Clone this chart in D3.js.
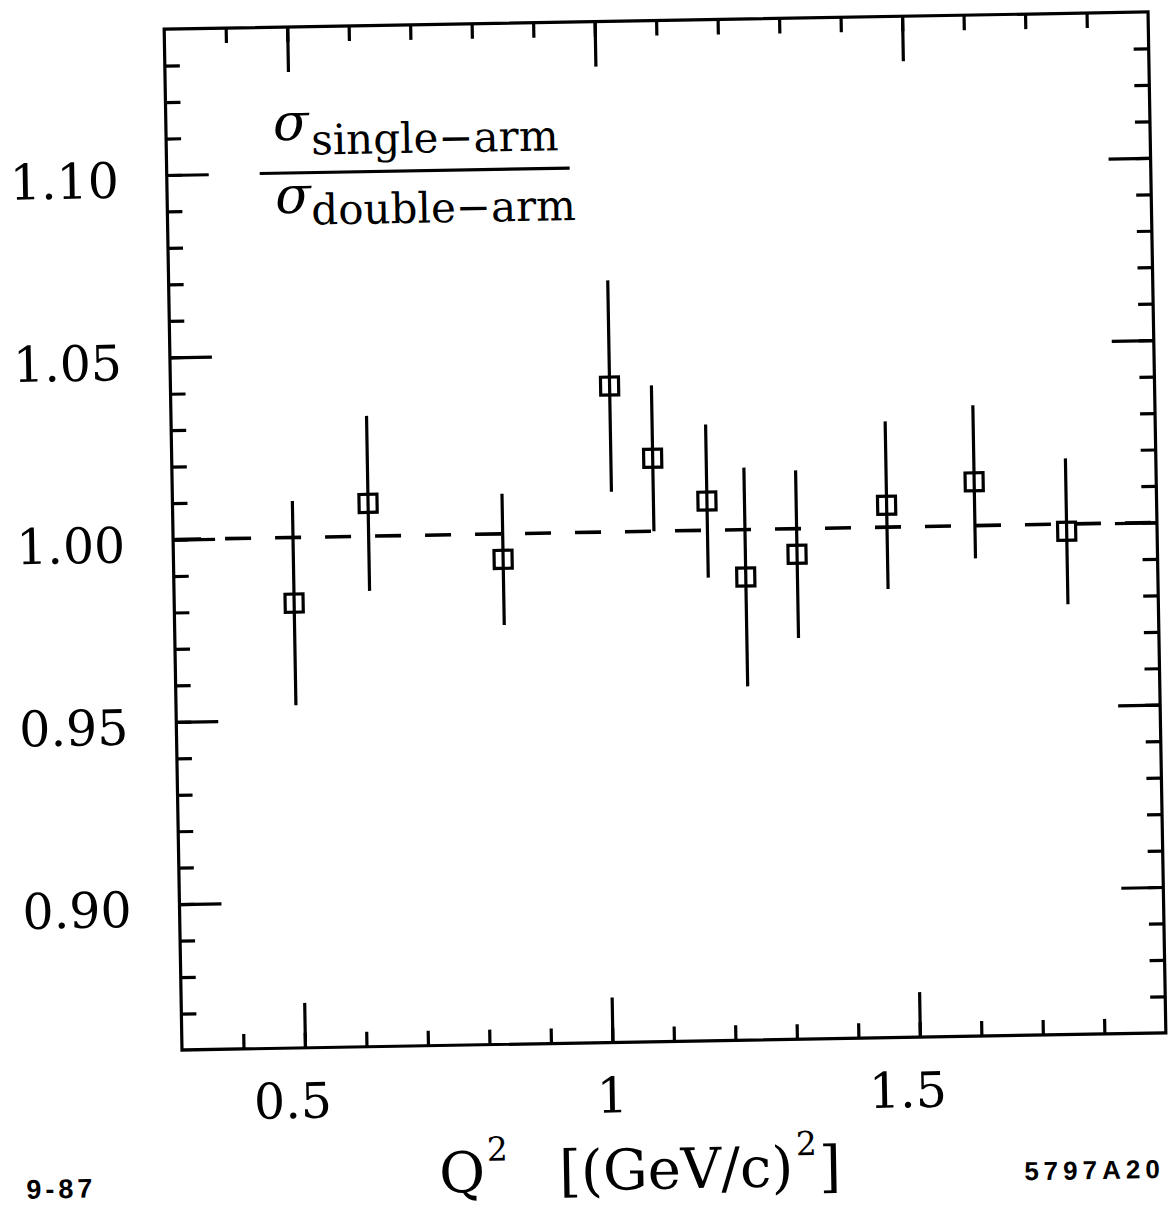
<!DOCTYPE html>
<html>
<head>
<meta charset="utf-8">
<script src="https://cdn.jsdelivr.net/npm/d3@7"></script>
<style>
  html, body { margin: 0; padding: 0; background: #fff; overflow: hidden; }
  svg { display: block; }
</style>
</head>
<body>
<svg id="chart" width="1169" height="1206"></svg>
<script>
// Q^2 values (GeV/c)^2 and the single-arm / double-arm cross-section ratio
const q2 = [0.495, 0.618, 0.836, 1.014, 1.082, 1.169, 1.230, 1.314, 1.461, 1.604, 1.753];
const ratio = [0.982, 1.009, 0.993, 1.040, 1.020, 1.008, 0.987, 0.993, 1.006, 1.012, 0.998];
const ratioErr = [0.028, 0.024, 0.018, 0.029, 0.020, 0.021, 0.030, 0.023, 0.023, 0.021, 0.020];

// axis ticks and their labels
const xMajorTicks = [0.5, 1, 1.5];
const xTickLabels = ["0.5", "1", "1.5"];
const yMajorTicks = [0.90, 0.95, 1.00, 1.05, 1.10];
const yTickLabels = ["0.90", "0.95", "1.00", "1.05", "1.10"];
const referenceLevel = [1.00];

const frameLeft = 182, frameBottom = 1050, frameW = 984, frameH = 1021;
const frameTop = frameBottom - frameH, frameRight = frameLeft + frameW;

const x = d3.scaleLinear().domain([0.3, 1.9]).range([frameLeft, frameRight]);
const y = d3.scaleLinear().domain([0.86, 1.14]).range([frameBottom, frameTop]);

const svg = d3.select("#chart");
const page = svg.append("g").attr("transform", `rotate(-1, ${frameLeft}, ${frameBottom})`);

const serif = "'DejaVu Serif', 'Liberation Serif', serif";
const sans = "'Liberation Sans', Arial, sans-serif";
const lw = 3.2;

function styleAxis(g) {
  g.select(".domain").remove();
  g.selectAll(".tick line").attr("stroke", "#000").attr("stroke-width", lw);
  g.selectAll(".tick text").remove();
}

const xMinor = x.ticks(16).filter(v => v > 0.3001 && v < 1.8999);
const yMinor = y.ticks(28).filter(v => v > 0.8601 && v < 1.1399);

// inward minor and major ticks on all four sides
const axes = [
  [d3.axisBottom(x), `translate(0,${frameBottom})`, xMinor, xMajorTicks],
  [d3.axisTop(x), `translate(0,${frameTop})`, xMinor, xMajorTicks],
  [d3.axisLeft(y), `translate(${frameLeft},0)`, yMinor, yMajorTicks],
  [d3.axisRight(y), `translate(${frameRight},0)`, yMinor, yMajorTicks]
];
axes.forEach(([ax, tr, minor]) => {
  page.append("g").attr("transform", tr)
    .call(ax.tickValues(minor).tickSize(-15).tickFormat(""))
    .call(styleAxis);
});
axes.forEach(([ax, tr, minor, major], i) => {
  const len = i < 2 ? -45 : -42;
  page.append("g").attr("transform", tr)
    .call(ax.tickValues(major).tickSize(len).tickFormat(""))
    .call(styleAxis);
});

// frame
page.append("rect")
  .attr("x", frameLeft).attr("y", frameTop)
  .attr("width", frameW).attr("height", frameH)
  .attr("fill", "none").attr("stroke", "#000").attr("stroke-width", lw);

// tick labels
page.append("g").selectAll("text")
  .data(yMajorTicks)
  .join("text")
  .attr("x", frameLeft - 48)
  .attr("y", d => y(d) + 22)
  .attr("text-anchor", "end")
  .attr("font-family", serif)
  .attr("font-size", 49)
  .text((d, i) => yTickLabels[i]);

page.append("g").selectAll("text")
  .data(xMajorTicks)
  .join("text")
  .attr("x", (d, i) => x(d) + (xTickLabels[i].includes(".") ? -13 : -1))
  .attr("y", frameBottom + 70)
  .attr("text-anchor", "middle")
  .attr("font-family", serif)
  .attr("font-size", 49)
  .text((d, i) => xTickLabels[i]);

// reference line at unity
page.append("g").selectAll("line")
  .data(referenceLevel)
  .join("line")
  .attr("x1", frameLeft).attr("x2", frameRight)
  .attr("y1", d => y(d)).attr("y2", d => y(d))
  .attr("stroke", "#000").attr("stroke-width", lw + 0.4)
  .attr("stroke-dasharray", "26 24")
  .attr("stroke-dashoffset", 48);

// error bars
page.append("g").selectAll("line")
  .data(q2)
  .join("line")
  .attr("x1", d => x(d)).attr("x2", d => x(d))
  .attr("y1", (d, i) => y(ratio[i] + ratioErr[i]))
  .attr("y2", (d, i) => y(ratio[i] - ratioErr[i]))
  .attr("stroke", "#000").attr("stroke-width", lw);

// open square markers
const box = 18;
page.append("g").selectAll("rect")
  .data(q2)
  .join("rect")
  .attr("x", d => x(d) - box / 2)
  .attr("y", (d, i) => y(ratio[i]) - box / 2)
  .attr("width", box).attr("height", box)
  .attr("fill", "none").attr("stroke", "#000").attr("stroke-width", lw);

// ratio label
const lab = page.append("g").attr("font-family", serif);
lab.append("text").attr("x", 289).attr("y", 142)
  .attr("font-size", 52).attr("font-style", "italic").text("σ");
lab.append("text").attr("x", 327).attr("y", 157)
  .attr("font-size", 42).text("single−arm");
lab.append("line").attr("x1", 275).attr("x2", 585)
  .attr("y1", 175).attr("y2", 175)
  .attr("stroke", "#000").attr("stroke-width", lw);
lab.append("text").attr("x", 290).attr("y", 215)
  .attr("font-size", 52).attr("font-style", "italic").text("σ");
lab.append("text").attr("x", 326).attr("y", 227)
  .attr("font-size", 42).text("double−arm");

// x axis title
const title = page.append("text")
  .attr("x", 437).attr("y", 1197)
  .attr("font-family", serif).attr("font-size", 56);
title.append("tspan").text("Q");
title.append("tspan").attr("font-size", 33).attr("dy", -31).attr("dx", 2).text("2");
title.append("tspan").attr("x", 557).attr("dy", 31).text("[(GeV/c)");
title.append("tspan").attr("font-size", 33).attr("dy", -31).attr("dx", 3).text("2");
title.append("tspan").attr("dy", 31).attr("dx", 2).text("]");

// figure bookkeeping marks
page.append("text").attr("x", 24).attr("y", 1196)
  .attr("font-family", sans).attr("font-weight", "bold")
  .attr("font-size", 27).attr("letter-spacing", 4).text("9-87");
page.append("text").attr("x", 1022).attr("y", 1195)
  .attr("font-family", sans).attr("font-weight", "bold")
  .attr("font-size", 26).attr("letter-spacing", 5).text("5797A20");
</script>
</body>
</html>
